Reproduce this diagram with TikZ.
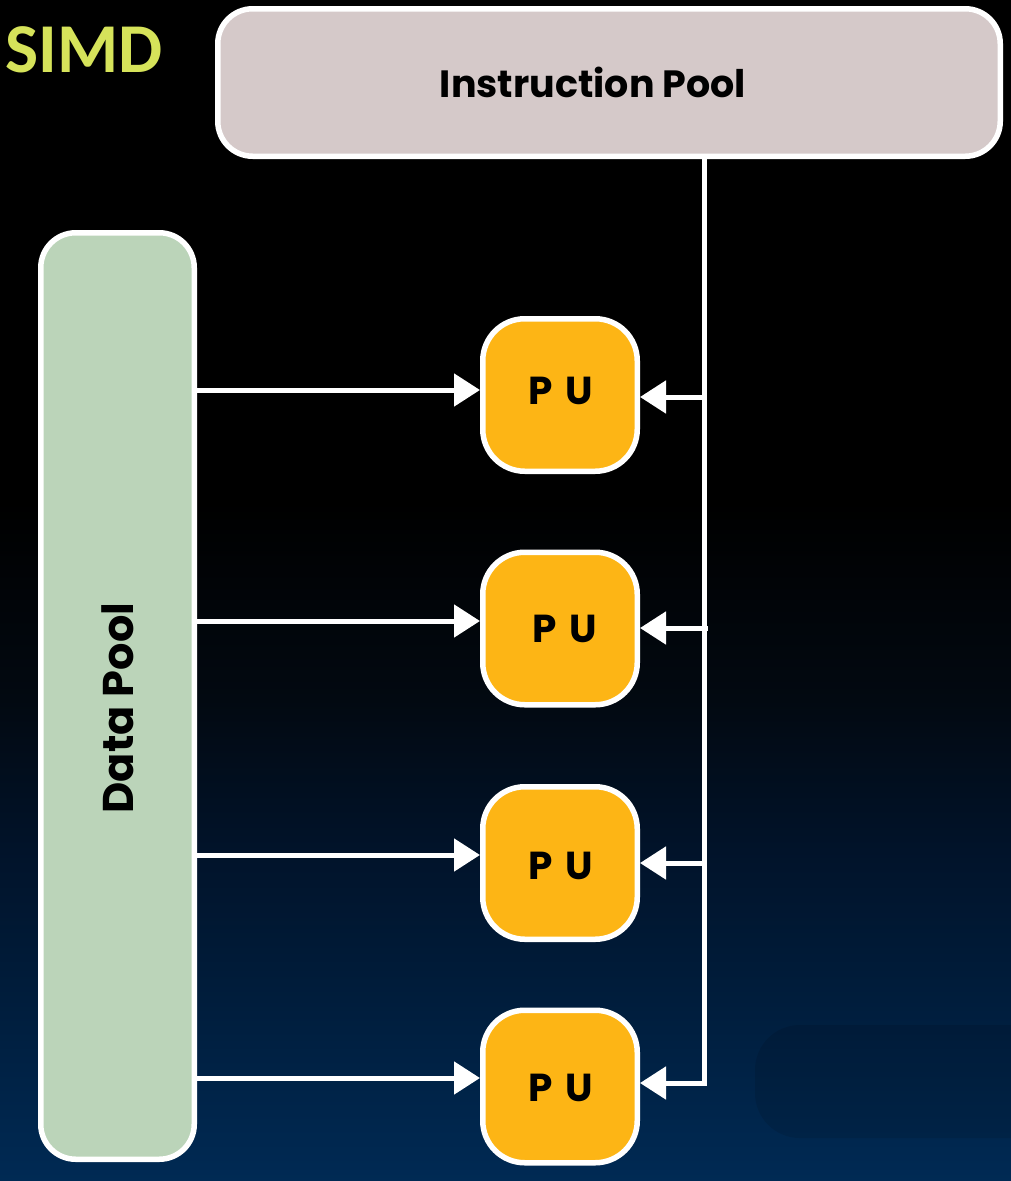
\documentclass[tikz,border=0pt]{standalone}
\usepackage{fontspec}
\newfontfamily\popf{Poppins}
\newfontfamily\calf{Carlito}
\usetikzlibrary{arrows.meta,calc}
\definecolor{ipfill}{HTML}{D5C9C9}
\definecolor{dpfill}{HTML}{BBD4B9}
\definecolor{pufill}{HTML}{FDB515}
\definecolor{simdc}{HTML}{D6E35A}
\definecolor{bgA}{HTML}{002A54}
\definecolor{bgB}{HTML}{001D3C}
\definecolor{bgC}{HTML}{01132A}
\definecolor{bgD}{HTML}{020911}
\pgfdeclareverticalshading{bgshade}{100bp}{color(0bp)=(bgA); color(25bp)=(bgA); color(32.7bp)=(bgB); color(39bp)=(bgC); color(45.4bp)=(bgD); color(53.8bp)=(black); color(100bp)=(black)}
\begin{document}
\begin{tikzpicture}[x=1pt,y=-1pt,
  box/.style={draw=white, line width=5.5pt, rounded corners=35pt, inner sep=0pt},
  pubox/.style={box, fill=pufill, minimum width=154.5pt, minimum height=152.5pt, rounded corners=42pt},
  lbl/.style={inner sep=0pt, text=black, font=\popf\bfseries\fontsize{38}{46}\selectfont},
  pulbl/.style={inner sep=0pt, text=black, font=\popf\bfseries\fontsize{39}{44}\selectfont},
  arr/.style={draw=white, line width=5pt, -{Triangle[length=26pt,width=32pt]}}
]
\path[use as bounding box, shading=bgshade] (0,0) rectangle (1011,1181);
\fill[black, opacity=0.10, rounded corners=45pt] (755,1025) rectangle (1060,1138);

\node[anchor=base west, inner sep=0pt, text=simdc, font=\calf\bfseries\fontsize{70}{72}\selectfont] (title) at (5,72) {SIMD};

\node[box, fill=ipfill, minimum width=782.5pt, minimum height=147.5pt] (ip) at (609,82.5) {};
\node[lbl] (iptext) at (593,82) {Instruction Pool};

\node[box, fill=dpfill, minimum width=153.5pt, minimum height=926.5pt] (dp) at (117.5,696) {};
\node[lbl, rotate=90, font=\popf\bfseries\fontsize{43}{48}\selectfont] (dptext) at (118,708) {Data Pool};

\node[pubox] (pu1) at (560,395) {};
\node[pubox] (pu2) at (560,628.5) {};
\node[pubox] (pu3) at (560,863) {};
\node[pubox] (pu4) at (560,1086.5) {};
\node[pulbl] (t1) at (561,391) {P\hspace{4pt} U};
\node[pulbl] (t2) at (565,629) {P\hspace{4pt} U};
\node[pulbl] (t3) at (561,866) {P\hspace{4pt} U};
\node[pulbl] (t4) at (561,1088) {P\hspace{4pt} U};

% data arrows
\coordinate (l1) at ([yshift=5pt]pu1.west);
\coordinate (l2) at ([yshift=7.5pt]pu2.west);
\coordinate (l3) at ([yshift=8pt]pu3.west);
\coordinate (l4) at ([yshift=8.5pt]pu4.west);
\draw[arr] (dp.east |- l1) -- (l1);
\draw[arr] (dp.east |- l2) -- (l2);
\draw[arr] (dp.east |- l3) -- (l3);
\draw[arr] (dp.east |- l4) -- (l4);

% instruction bus
\coordinate (bx) at (704,0);
\coordinate (bx2) at (708,0);
\coordinate (r1) at ([yshift=-2pt]pu1.east);
\coordinate (r2) at ([yshift=0.5pt]pu2.east);
\coordinate (r3) at (pu3.east);
\coordinate (r4) at ([yshift=3.5pt]pu4.east);
\draw[arr] (ip.south -| bx) |- (r4);
\draw[arr] (bx |- r1) -- (r1);
\draw[arr] (bx2 |- r2) -- (r2);
\draw[arr] (bx |- r3) -- (r3);
\end{tikzpicture}
\end{document}
